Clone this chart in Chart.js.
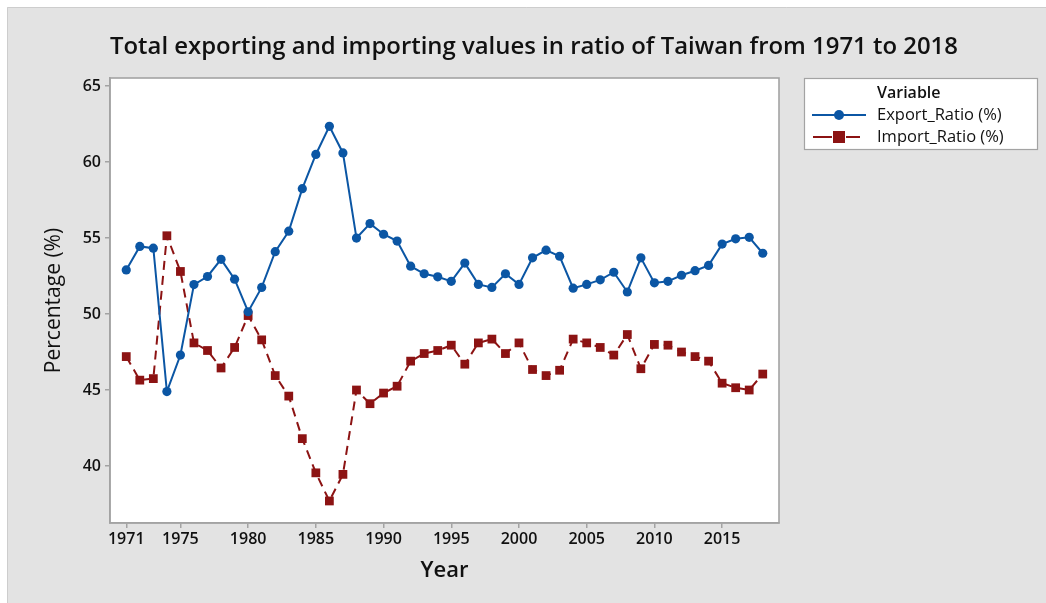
<!DOCTYPE html>
<html>
<head>
<meta charset="utf-8">
<script src="https://cdn.jsdelivr.net/npm/chart.js@4"></script>
<style>
html,body{margin:0;padding:0;background:#fff;}
#wrap{width:1046px;height:603px;position:relative;}
canvas{display:block;}
</style>
</head>
<body>
<div id="wrap"><canvas id="c" width="1046" height="603"></canvas></div>
<script>
const years = [1971,1972,1973,1974,1975,1976,1977,1978,1979,1980,1981,1982,1983,1984,1985,1986,1987,1988,1989,1990,1991,1992,1993,1994,1995,1996,1997,1998,1999,2000,2001,2002,2003,2004,2005,2006,2007,2008,2009,2010,2011,2012,2013,2014,2015,2016,2017,2018];
const exportRatio = [52.9,54.45,54.33,44.9,47.3,51.94,52.47,53.6,52.29,50.15,51.75,54.1,55.45,58.25,60.5,62.35,60.6,55.0,55.95,55.25,54.8,53.15,52.65,52.45,52.15,53.35,51.95,51.75,52.65,51.95,53.7,54.2,53.8,51.7,51.95,52.25,52.75,51.45,53.7,52.05,52.15,52.55,52.85,53.2,54.6,54.95,55.05,54.0];
const importRatio = [47.2,45.65,45.75,55.15,52.8,48.1,47.6,46.45,47.8,49.9,48.3,45.95,44.6,41.8,39.55,37.7,39.45,45.0,44.1,44.8,45.25,46.9,47.4,47.6,47.95,46.7,48.1,48.35,47.4,48.1,46.35,45.95,46.3,48.35,48.1,47.8,47.3,48.65,46.4,48.0,47.95,47.5,47.2,46.9,45.45,45.15,45.0,46.05];
const xTickLabels = [1971,1975,1980,1985,1990,1995,2000,2005,2010,2015];
const yTickLabels = [40,45,50,55,60,65];
const seriesNames = ['Export_Ratio (%)','Import_Ratio (%)'];
const titleText = 'Total exporting and importing values in ratio of Taiwan from 1971 to 2018';

const FONT = '"Open Sans", "Noto Sans", sans-serif';
const BLUE = '#0b56a4';
const RED = '#8c1313';
const FRAME = '#a3a3a3';

const bgPlugin = {
  id: 'bg',
  beforeDraw(chart) {
    const ctx = chart.ctx, a = chart.chartArea;
    ctx.save();
    ctx.fillStyle = '#ffffff';
    ctx.fillRect(0,0,chart.width,chart.height);
    ctx.fillStyle = '#e3e3e3';
    ctx.fillRect(7,7,chart.width-7,chart.height-7);
    ctx.strokeStyle = '#cdcdcd';
    ctx.lineWidth = 1;
    ctx.beginPath();
    ctx.moveTo(7.5,chart.height); ctx.lineTo(7.5,7.5); ctx.lineTo(chart.width,7.5);
    ctx.stroke();
    ctx.fillStyle = '#ffffff';
    ctx.fillRect(a.left,a.top,a.right-a.left,a.bottom-a.top);
    ctx.restore();
  },
  afterDatasetsDraw(chart) {
    const ctx = chart.ctx, a = chart.chartArea;
    ctx.save();
    ctx.strokeStyle = FRAME;
    ctx.lineWidth = 1.6;
    ctx.strokeRect(a.left,a.top,a.right-a.left,a.bottom-a.top);
    ctx.restore();
  },
  afterDraw(chart) {
    const ctx = chart.ctx;
    ctx.save();
    // title
    ctx.fillStyle = '#111';
    ctx.textBaseline = 'middle';
    ctx.textAlign = 'left';
    let fs = 20;
    ctx.font = '600 ' + fs + 'px ' + FONT;
    const w = ctx.measureText(titleText).width;
    fs = fs * 848 / w;
    ctx.font = '600 ' + fs.toFixed(2) + 'px ' + FONT;
    ctx.fillText(titleText, 110, 47);
    // legend
    const lx = 804, ly = 78, lw = 234, lh = 72;
    ctx.fillStyle = '#fff';
    ctx.fillRect(lx,ly,lw,lh);
    ctx.strokeStyle = '#a3a3a3';
    ctx.lineWidth = 1.2;
    ctx.strokeRect(lx+0.5,ly+0.5,lw-1,lh-1);
    ctx.fillStyle = '#111';
    ctx.font = '600 16px ' + FONT;
    ctx.fillText('Variable', 877, 93.5);
    ctx.font = '16.5px ' + FONT;
    ctx.fillText(seriesNames[0], 877, 115);
    ctx.fillText(seriesNames[1], 877, 137);
    // blue entry
    ctx.strokeStyle = BLUE; ctx.lineWidth = 2;
    ctx.beginPath(); ctx.moveTo(812,115); ctx.lineTo(866,115); ctx.stroke();
    ctx.fillStyle = BLUE;
    ctx.beginPath(); ctx.arc(839,115,5,0,Math.PI*2); ctx.fill();
    // red entry
    ctx.strokeStyle = RED; ctx.lineWidth = 2;
    ctx.beginPath(); ctx.moveTo(813,137); ctx.lineTo(832,137); ctx.moveTo(846,137); ctx.lineTo(860,137); ctx.stroke();
    ctx.fillStyle = RED;
    ctx.fillRect(833,131,12,12);
    ctx.restore();
  }
};

new Chart(document.getElementById('c'), {
  type: 'line',
  data: {
    datasets: [
      {
        label: seriesNames[0],
        data: years.map((y,i)=>({x:y, y:exportRatio[i]})),
        borderColor: BLUE,
        backgroundColor: BLUE,
        borderWidth: 2,
        pointStyle: 'circle',
        pointRadius: 4.6,
        pointBorderWidth: 0,
        tension: 0,
        fill: false
      },
      {
        label: seriesNames[1],
        data: years.map((y,i)=>({x:y, y:importRatio[i]})),
        borderColor: RED,
        backgroundColor: RED,
        borderWidth: 2,
        borderDash: [9,6],
        pointStyle: 'rect',
        pointRadius: 6.2,
        pointBorderWidth: 0,
        tension: 0,
        fill: false
      }
    ]
  },
  options: {
    responsive: false,
    animation: false,
    devicePixelRatio: 1,
    layout: { padding: { left: 0, top: 78, right: 267, bottom: 0 } },
    plugins: {
      legend: { display: false },
      title: { display: false },
      tooltip: { enabled: false }
    },
    scales: {
      x: {
        type: 'linear',
        min: 1969.8,
        max: 2019.2,
        afterBuildTicks: s => { s.ticks = xTickLabels.map(v=>({value:v})); },
        afterFit: s => { s.height = 80; },
        grid: { drawOnChartArea: false, drawTicks: true, tickLength: 5, color: FRAME, lineWidth: 1.5 },
        border: { display: true, color: FRAME, width: 1.6 },
        ticks: { callback: v => String(v), color: '#111', font: { family: FONT, size: 16, weight: '600' }, padding: 2, maxRotation: 0, autoSkip: false },
        title: { display: true, text: 'Year', color: '#111', font: { family: FONT, size: 22, weight: '600' }, padding: { top: 0, bottom: 19 } }
      },
      y: {
        type: 'linear',
        min: 36.25,
        max: 65.53,
        afterBuildTicks: s => { s.ticks = yTickLabels.map(v=>({value:v})); },
        afterFit: s => { s.width = 110; },
        grid: { drawOnChartArea: false, drawTicks: true, tickLength: 5, color: FRAME, lineWidth: 1.5 },
        border: { display: true, color: FRAME, width: 1.6 },
        ticks: { callback: v => String(v), color: '#111', font: { family: FONT, size: 16, weight: '600' }, padding: 4 },
        title: { display: true, text: 'Percentage (%)', color: '#111', font: { family: FONT, size: 21 }, padding: { top: 41, bottom: 0 } }
      }
    }
  },
  plugins: [bgPlugin]
});
</script>
</body>
</html>
